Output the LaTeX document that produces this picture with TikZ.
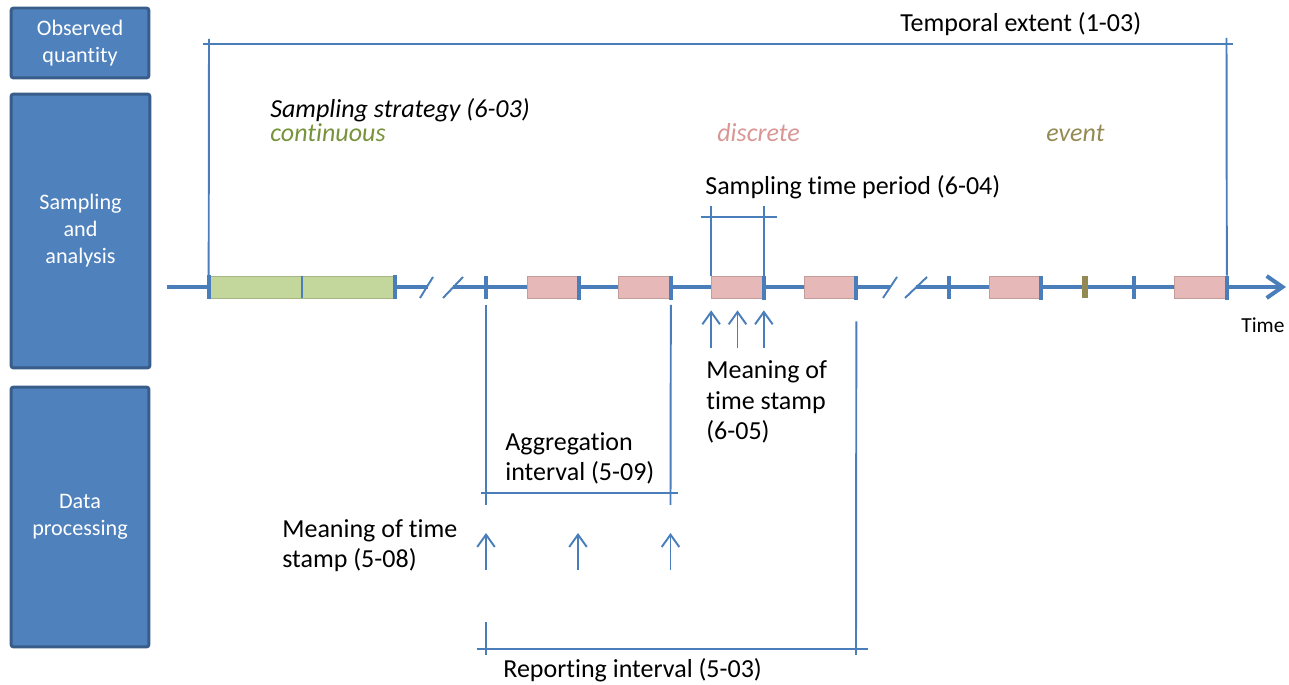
\documentclass[tikz,border=0pt]{standalone}
\usepackage{fontspec}
\setmainfont[Ligatures=NoCommon]{Carlito}
\usetikzlibrary{arrows.meta}
\definecolor{boxblue}{HTML}{4F81BD}
\definecolor{boxedge}{HTML}{385D8A}
\definecolor{lblue}{HTML}{4A7EBB}
\definecolor{grnfill}{HTML}{C3D69B}
\definecolor{pinkfill}{HTML}{E6B9B8}
\definecolor{evcol}{HTML}{938953}
\definecolor{contc}{HTML}{77933C}
\definecolor{discc}{HTML}{D99694}
\definecolor{evtxt}{HTML}{948A54}
\begin{document}
\begin{tikzpicture}[x=0.02cm,y=-0.02cm,
 lbox/.style={draw=boxedge, fill=boxblue, line width=1.7pt, rounded corners=1.5pt, text=white, align=center, inner sep=0pt, font=\fontsize{12.6}{15.4}\selectfont},
 lbl/.style={anchor=base west, inner sep=0pt, align=left, font=\fontsize{14.8}{17.4}\selectfont},
 thin/.style={draw=lblue, line width=1.1pt},
 axis/.style={draw=lblue, line width=2.3pt},
 tk/.style={draw=lblue, line width=2.2pt},
 smp/.style={rectangle, inner sep=0pt, minimum height=0.44cm, minimum width=1.04cm, line width=0.4pt},
 pk/.style={smp, fill=pinkfill, draw=pinkfill!85!black},
 upar/.style={thin, -{Straight Barb[length=7pt,width=10pt]}},
]
\useasboundingbox (0,0) rectangle (1289,685);

% left category boxes
\node[lbox, minimum width=2.76cm, minimum height=1.4cm] (oq) at (80,43) {Observed\\quantity};
\node[lbox, minimum width=2.78cm, minimum height=5.48cm] (sa) at (80.5,231) {Sampling\\and\\analysis};
\node[lbox, minimum width=2.76cm, minimum height=5.2cm] (dp) at (80,517) {Data\\processing};

% time axis
\coordinate (t0) at (167,287);
\coordinate (br1a) at (428,287);
\coordinate (br1b) at (453,287);
\coordinate (br2a) at (890,287);
\coordinate (br2b) at (916,287);
\coordinate (tend) at (1286,287);
\draw[axis] (t0) -- (br1a);
\draw[axis] (br1b) -- (br2a);
\draw[axis, -{Straight Barb[length=9pt,width=12.5pt]}] (br2b) -- (tend);

% break marks
\draw[thin] (420,298) -- (433,277);
\draw[thin] (443,298) -- (463,277);
\draw[thin] (883,298) -- (897,277);
\draw[thin] (905,298) -- (927,277);

% samples
\node[smp, fill=grnfill, draw=grnfill!85!black, minimum width=3.72cm] (c1) at (302,287) {};
\node[pk] (d1) at (553,287) {};
\node[pk] (d2) at (644.5,287) {};
\node[pk] (d3) at (737.5,287) {};
\node[pk] (d4) at (830,287) {};
\node[pk] (d5) at (1015,287) {};
\node[pk] (d6) at (1200.5,287) {};
\node[smp, fill=evcol, minimum width=0.12cm] (ev) at (1085,287) {};
\draw[thin] (c1.north) -- (c1.south);

% ticks
\draw[tk] ([yshift=0.02cm]c1.north west) -- ([yshift=-0.02cm]c1.south west);
\draw[tk] ([yshift=0.02cm]c1.north east) -- ([yshift=-0.02cm]c1.south east);
\foreach \n in {d1,d2,d3,d4,d5,d6}
  \draw[tk] (\n.north east) -- ([yshift=-0.03cm]\n.south east);
\coordinate (k1) at (486,287);
\coordinate (k2) at (949,287);
\coordinate (k3) at (1134,287);
\foreach \k in {k1,k2,k3}
  \draw[tk] ([yshift=0.22cm]\k) -- ([yshift=-0.24cm]\k);

% temporal extent
\coordinate (te1) at (203,44);
\coordinate (te2) at (1233,44);
\draw[thin] (te1) -- (te2);
\draw[thin] (209,39) -- (c1.north west);
\draw[thin] (1226.5,38) -- (d6.north east);
\node[lbl] (tel) at (900,32) {Temporal extent (1-03)};

% sampling strategy
\node[lbl, font=\fontsize{14.8}{17.4}\selectfont\itshape] (ss) at (270,118) {Sampling strategy (6-03)};
\node[lbl, font=\fontsize{14.8}{17.4}\selectfont\itshape, text=contc] (cont) at (270,142) {continuous};
\node[lbl, font=\fontsize{14.8}{17.4}\selectfont\itshape, text=discc] (disc) at (717,142) {discrete};
\node[lbl, font=\fontsize{14.8}{17.4}\selectfont\itshape, text=evtxt] (evl) at (1046,142) {event};

% sampling time period
\coordinate (sp1) at (701,217);
\coordinate (sp2) at (777,217);
\draw[thin] (sp1) -- (sp2);
\draw[thin] (d3.north west) -- ++(0,-70);
\draw[thin] (d3.north east) -- ++(0,-70);
\node[lbl] (stp) at (705,195) {Sampling time period (6-04)};

% meaning of time stamp (6-05)
\foreach \a in {south west, south, south east}
  \draw[upar] ([yshift=-1.0cm]d3.\a) -- ([yshift=-0.24cm]d3.\a);
\node[lbl] (mts6) at (706,440) {Meaning of\\time stamp\\(6-05)};

% aggregation interval
\coordinate (ag1) at (481,493);
\coordinate (ag2) at (678,493);
\draw[thin] (ag1) -- (ag2);
\draw[thin] ([yshift=-0.36cm]k1) -- (486,505);
\draw[thin] ([yshift=-0.36cm]d2.east) -- (670.5,505);
\node[lbl] (agl) at (505,481) {Aggregation\\interval (5-09)};

% meaning of time stamp (5-08)
\coordinate (a1) at (486,570);
\coordinate (a2) at (578,570);
\coordinate (a3) at (670.5,570);
\foreach \p in {a1,a2,a3}
  \draw[upar] (\p) -- ([yshift=0.74cm]\p);
\node[lbl] (mts5) at (282,568) {Meaning of time\\stamp (5-08)};

% reporting interval
\coordinate (rp1) at (477,649);
\coordinate (rp2) at (868,649);
\draw[thin] (rp1) -- (rp2);
\draw[thin] ([yshift=-0.46cm]d4.south east) -- (856,655);
\draw[thin] (486,622) -- (486,655);
\node[lbl] (rpl) at (503,678) {Reporting interval (5-03)};

% time label
\node[lbl, font=\fontsize{12.2}{14}\selectfont] (tl) at (1241,333) {Time};
\end{tikzpicture}
\end{document}
